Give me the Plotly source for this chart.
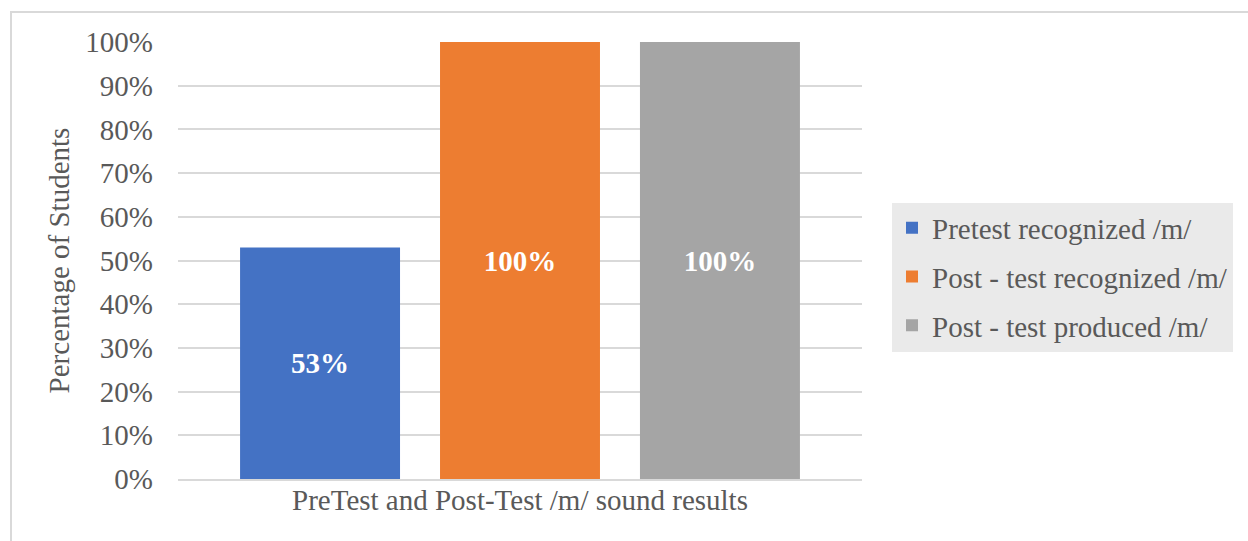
import plotly.graph_objects as go

# Share of students per test phase for the /m/ sound
category = ["PreTest and Post-Test /m/ sound results"]
series_names = ["Pretest recognized /m/", "Post - test recognized /m/", "Post - test produced /m/"]
series_values = [[0.53], [1.00], [1.00]]
series_colors = ["#4472C4", "#ED7D31", "#A5A5A5"]
y_ticks = [0, 0.1, 0.2, 0.3, 0.4, 0.5, 0.6, 0.7, 0.8, 0.9, 1.0]
y_tick_labels = ["0%", "10%", "20%", "30%", "40%", "50%", "60%", "70%", "80%", "90%", "100%"]

SERIF = "Liberation Serif, Times New Roman, serif"
FS = 29

fig = go.Figure()
for i, (name, vals, col) in enumerate(zip(series_names, series_values, series_colors)):
    fig.add_trace(go.Bar(
        x=category, y=vals, name=name,
        marker=dict(color=col, line=dict(width=0)),
        text=[f"{v:.0%}" for v in vals],
        textposition="inside", insidetextanchor="middle",
        textfont=dict(family=SERIF, size=FS, color="white", weight="bold"),
        legendgroup=f"g{i}",
    ))

W, H = 1248, 541
L, R, T, B = 178, 386, 42, 62
pw, ph = W - L - R, H - T - B

fig.update_layout(
    width=W, height=H,
    margin=dict(l=L, r=R, t=T, b=B, autoexpand=False),
    paper_bgcolor="white", plot_bgcolor="white",
    barmode="group", bargap=0.123, bargroupgap=0.2,
    font=dict(family=SERIF, size=FS, color="#595959"),
    showlegend=True,
    legend=dict(
        x=(892 - L) / pw, xanchor="left",
        y=(H - B - 277) / ph, yanchor="middle",
        bgcolor="#EAEAEA", borderwidth=0,
        font=dict(family=SERIF, size=FS, color="#595959"),
        traceorder="grouped", tracegroupgap=8,
        itemwidth=30,
    ),
    xaxis=dict(
        showgrid=False, showline=True, linecolor="#D9D9D9", linewidth=1.5,
        ticks="", tickfont=dict(size=FS, color="#595959"),
        ticklabelstandoff=-6,
    ),
    yaxis=dict(
        range=[0, 1], tickvals=y_ticks, ticktext=y_tick_labels,
        showgrid=True, gridcolor="#D9D9D9", gridwidth=1.5,
        zeroline=False, showline=False, ticks="",
        tickfont=dict(size=FS, color="#595959"),
        ticklabelstandoff=24,
        title=dict(text="Percentage of Students", font=dict(size=FS, color="#595959"), standoff=7),
    ),
    shapes=[dict(
        type="rect", xref="paper", yref="paper",
        x0=(11 - L) / pw, x1=(W + 20 - L) / pw,
        y0=-(B + 20) / ph, y1=(H - B - 12) / ph,
        line=dict(color="#D9D9D9", width=2), fillcolor="rgba(0,0,0,0)", layer="below",
    )],
)

fig.write_html("out.html")
